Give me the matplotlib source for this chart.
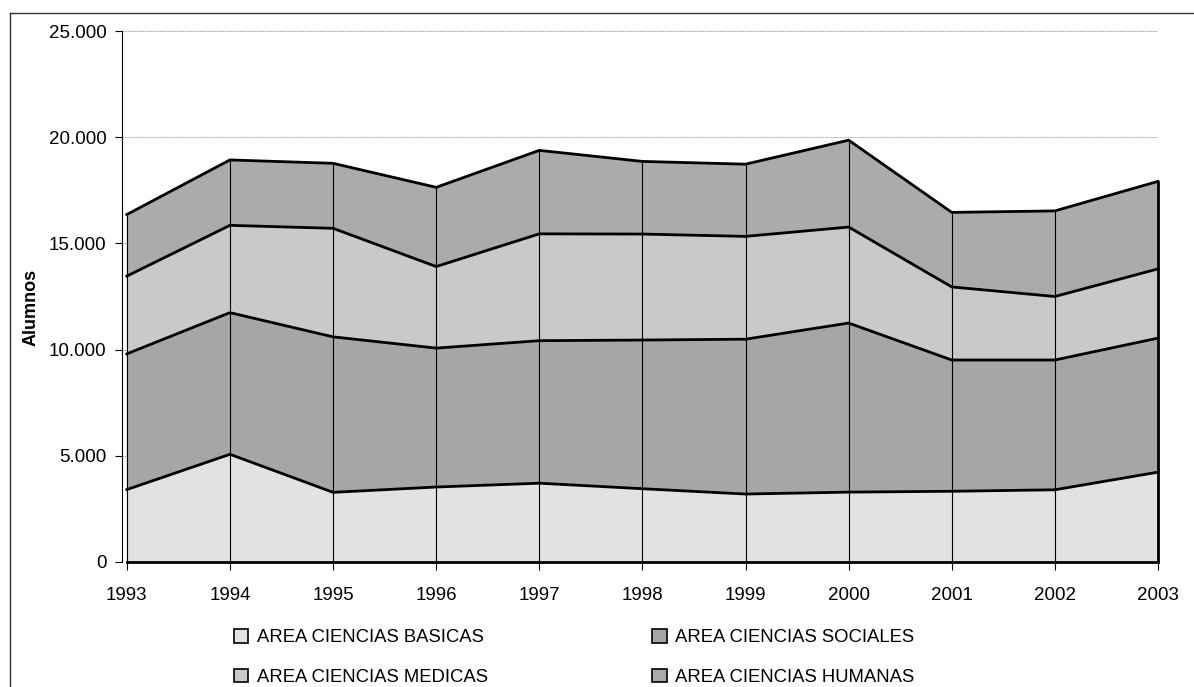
import matplotlib

matplotlib.use("Agg")
import matplotlib.pyplot as plt
import numpy as np
from matplotlib.lines import Line2D
from matplotlib.patches import Patch
from matplotlib.ticker import FuncFormatter

# alumnos por area
years = [1993, 1994, 1995, 1996, 1997, 1998, 1999, 2000, 2001, 2002, 2003]
basicas = [3410, 5070, 3280, 3530, 3710, 3450, 3200, 3290, 3330, 3400, 4230]
sociales = [6390, 6670, 7320, 6540, 6710, 7000, 7290, 7960, 6180, 6110, 6310]
medicas = [3660, 4110, 5110, 3840, 5030, 4990, 4840, 4520, 3440, 2990, 3260]
humanas = [2900, 3080, 3060, 3730, 3930, 3420, 3400, 4090, 3510, 4030, 4120]

labels = ["AREA CIENCIAS BASICAS", "AREA CIENCIAS SOCIALES",
          "AREA CIENCIAS MEDICAS", "AREA CIENCIAS HUMANAS"]
colors = ["#e2e2e2", "#a6a6a6", "#c9c9c9", "#ababab"]

plt.rcParams["font.family"] = ["Liberation Sans", "DejaVu Sans"]

W, H = 1194, 687
fig = plt.figure(figsize=(W / 100, H / 100), dpi=100)
x0, x1, y0, y1 = 122, 1158, 562, 31
ax = fig.add_axes([x0 / W, 1 - y0 / H, (x1 - x0) / W, (y0 - y1) / H])

series = [basicas, sociales, medicas, humanas]
ax.stackplot(years, *series, colors=colors, edgecolor="none", zorder=2)

cum = np.cumsum(np.array(series), axis=0)
for level in cum:
    ax.plot(years, level, color="black", lw=2.0, zorder=4, clip_on=False)
ax.plot(years, np.zeros(len(years)), color="black", lw=2.0, zorder=4, clip_on=False)
ax.vlines(years[:-1], 0, cum[-1][:-1], colors="black", lw=0.8, zorder=3)
ax.vlines(years[-1], 0, cum[-1][-1], colors="black", lw=2.0, zorder=4, clip_on=False)

ax.set_xlim(years[0] - 0.047, years[-1])
ax.set_ylim(0, 25000)
ax.set_yticks(range(0, 25001, 5000))
ax.yaxis.set_major_formatter(FuncFormatter(lambda v, _: f"{int(v):,}".replace(",", ".")))
ax.set_xticks(years)
ax.grid(axis="y", color="#9a9a9a", lw=0.6, ls=(0, (2, 1)), zorder=1)
ax.set_axisbelow(True)

for s in ("top", "right", "bottom"):
    ax.spines[s].set_visible(False)
ax.spines["left"].set_linewidth(0.8)
ax.tick_params(axis="y", length=5, width=0.8, pad=6, labelsize=13.5)
ax.tick_params(axis="x", length=6, width=0.8, pad=12, labelsize=13.5)

ax.set_ylabel("Alumnos", fontsize=13, fontweight="bold")
ax.yaxis.set_label_coords(-0.08, 0.48)

# excel fills the legend row by row, matplotlib column by column
order = [0, 2, 1, 3]
handles = [Patch(facecolor=colors[i], edgecolor="black", lw=1.2) for i in order]
fig.legend(handles, [labels[i] for i in order], ncol=2, loc="upper left",
           bbox_to_anchor=(234 / W, 1 - 629 / H), frameon=False, fontsize=13.3,
           borderpad=0, borderaxespad=0, handlelength=0.78, handleheight=0.78,
           handletextpad=0.45, columnspacing=8.9, labelspacing=1.2)

# scanned page frame
fx, fy = 10 / W, 1 - 13 / H
fig.add_artist(Line2D([fx, 1], [fy, fy], transform=fig.transFigure, color="#333333", lw=1))
fig.add_artist(Line2D([fx, fx], [0, fy], transform=fig.transFigure, color="#333333", lw=1))

fig.savefig("out.png", dpi=100)
